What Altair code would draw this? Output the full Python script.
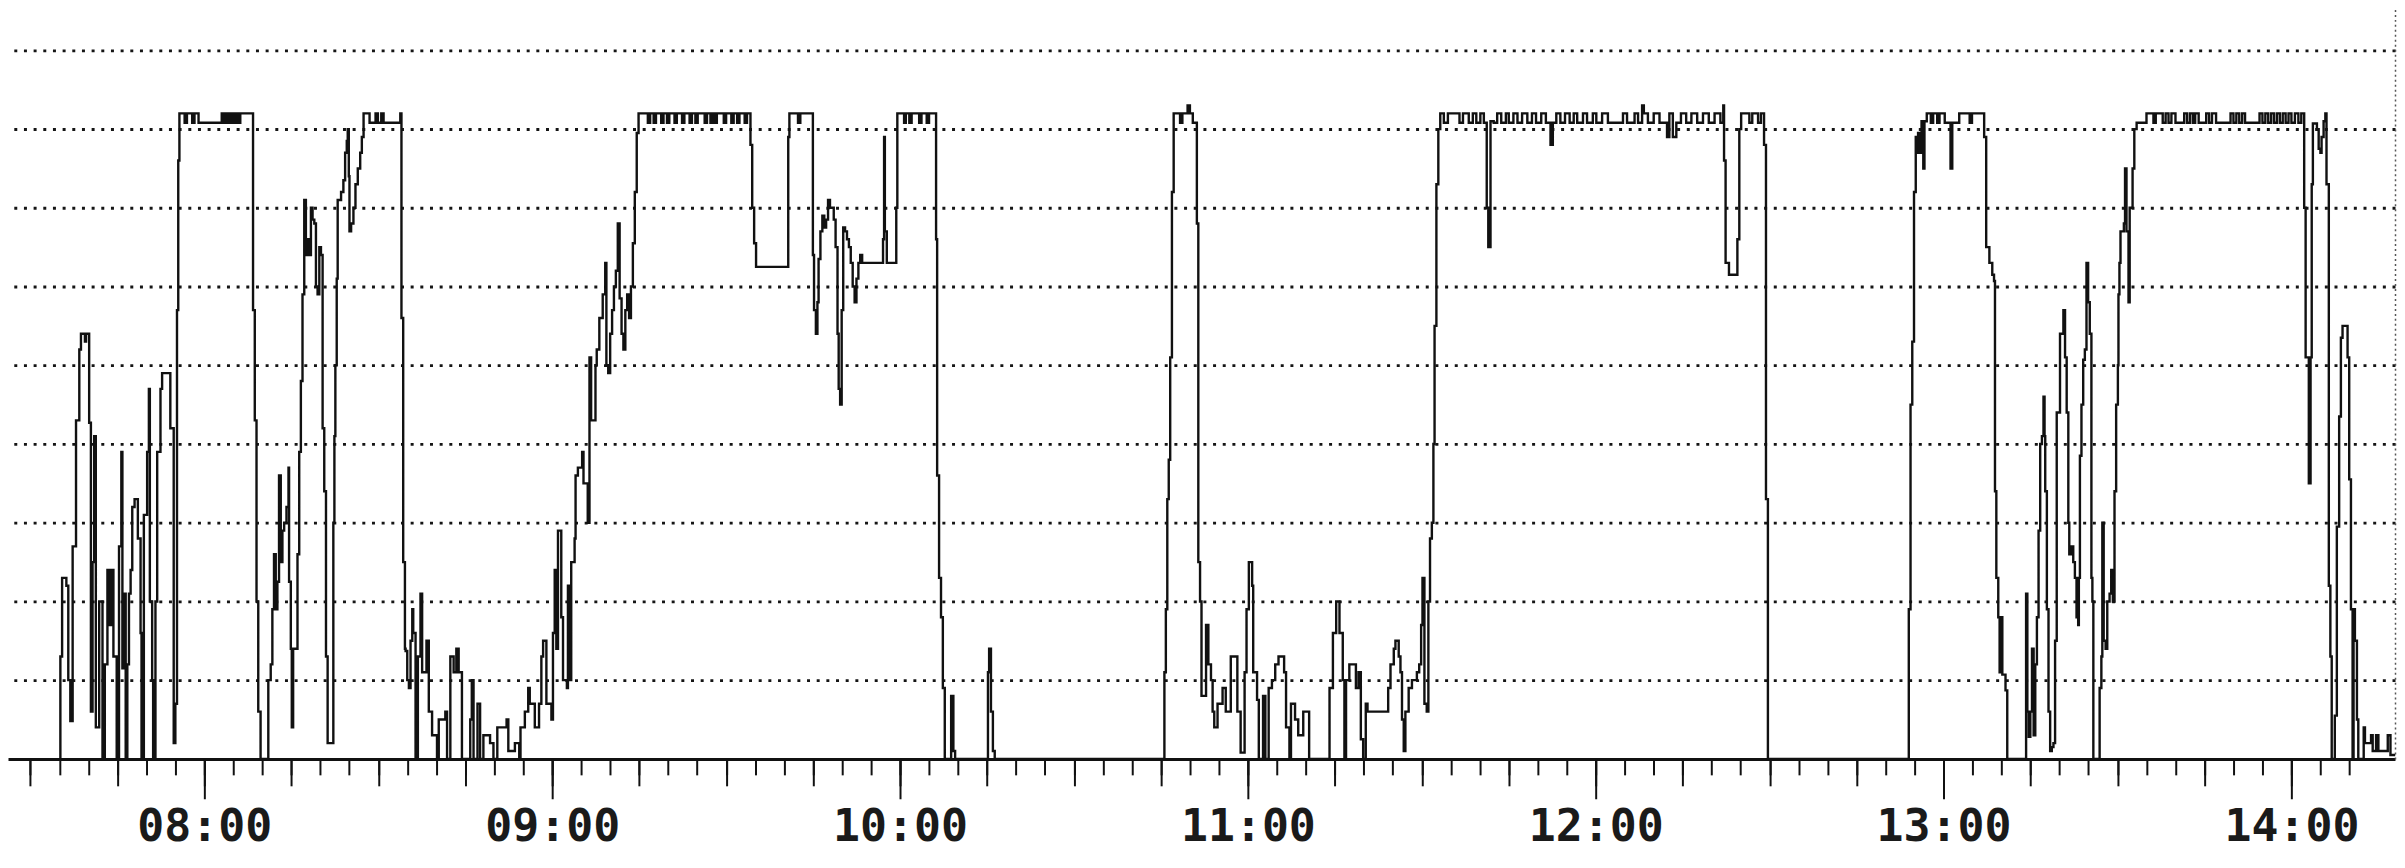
import altair as alt
import pandas as pd

# Each pair: (minutes after 07:00, level)  -- gridlines sit at levels 1..9
early = [(35.0, 0), (35.17, 1.3), (35.46, 2.3), (36.2, 2.2), (36.54, 1.0), (36.89, 0.48), (37.29, 2.7),
         (37.86, 4.3), (38.43, 5.2), (38.71, 5.4), (39.4, 5.3), (39.6, 5.4), (40.14, 4.27), (40.43, 0.6),
         (40.71, 2.5), (41.0, 4.1), (41.29, 0.4), (41.86, 2.0), (42.43, 0), (42.83, 1.2), (43.29, 2.4),
         (43.6, 1.7), (43.9, 2.4), (44.31, 1.3), (44.89, 0), (45.29, 2.7), (45.69, 3.9), (45.86, 1.15),
         (46.14, 2.1), (46.43, 0), (46.71, 1.2), (47.0, 2.1), (47.29, 2.4), (47.57, 3.2), (47.97, 3.3),
         (48.54, 2.8), (49.0, 1.6), (49.17, 0), (49.57, 3.1), (50.14, 3.9), (50.43, 4.7), (50.6, 2.0),
         (51.0, 1.0), (51.17, 0), (51.57, 2.0), (51.86, 3.9), (52.43, 4.7), (52.71, 4.9), (54.14, 4.2),
         (54.71, 0.2), (55.0, 0.7), (55.29, 5.7), (55.5, 7.6)]

plateau_1 = [(55.7, 8.2), (56.6, 8.08), (57.0, 8.2), (57.9, 8.08), (58.3, 8.2), (59.0, 8.08), (63.0, 8.2),
             (63.4, 8.08), (63.8, 8.2), (64.2, 8.08), (64.6, 8.2), (65.0, 8.08), (65.4, 8.2), (65.8, 8.08),
             (66.2, 8.2), (68.4, 5.7), (68.7, 4.3), (69.0, 2.0), (69.3, 0.6), (69.7, 0)]

climb_0810 = [(71.04, 1.0), (71.45, 1.2), (71.73, 1.9), (72.02, 2.6), (72.31, 1.9), (72.6, 2.25), (72.89, 3.6),
              (73.18, 2.5), (73.47, 2.9), (73.76, 3.0), (74.16, 3.2), (74.51, 3.7), (74.62, 2.25), (74.91, 1.4),
              (75.09, 0.4), (75.32, 1.4), (76.07, 2.6), (76.36, 3.9), (76.65, 4.8), (76.94, 5.9), (77.23, 7.1),
              (77.51, 6.4), (77.8, 6.6), (78.09, 6.4), (78.38, 7.0), (78.67, 6.85), (78.96, 6.8), (79.25, 6.0),
              (79.54, 5.9), (79.83, 6.5), (80.12, 6.4), (80.4, 4.2), (80.69, 3.4), (80.98, 1.3), (81.27, 0.2),
              (82.25, 3.0), (82.43, 4.1), (82.6, 5.0), (82.83, 6.1), (83.0, 7.1), (83.58, 7.2), (83.99, 7.35),
              (84.28, 7.7), (84.57, 7.85), (84.74, 8.0), (84.91, 7.4), (85.03, 6.7), (85.32, 6.8), (85.72, 7.0),
              (86.07, 7.3), (86.47, 7.5), (86.88, 7.7), (87.17, 7.9)]

plateau_2 = [(87.46, 8.2), (88.5, 8.08), (89.54, 8.2), (89.94, 8.08), (90.52, 8.2), (90.92, 8.08), (93.8, 8.2),
             (94.0, 5.6), (94.3, 2.5), (94.6, 1.4)]

low_0835 = [(94.71, 1.37), (95.0, 1.0), (95.29, 0.9), (95.57, 1.5), (95.86, 1.9), (96.03, 1.6), (96.43, 0),
            (96.83, 1.3), (97.29, 2.1), (97.57, 1.1), (98.31, 1.5), (98.71, 0.6), (99.29, 0.3), (100.14, 0),
            (100.43, 0.5), (101.57, 0.6), (101.86, 0), (102.43, 1.3), (103.0, 1.1), (103.46, 1.4), (103.86, 1.1),
            (104.43, 0), (105.86, 0.5), (106.14, 1.0), (106.43, 0), (107.11, 0.7), (107.57, 0), (108.14, 0.3),
            (109.29, 0.2), (109.86, 0), (110.54, 0.4), (112.14, 0.5), (112.43, 0.1), (113.57, 0.2), (114.31, 0),
            (114.54, 0.4), (115.29, 0.6), (115.86, 0.9), (116.14, 0.7), (117.0, 0.4), (117.74, 0.7), (118.14, 1.3),
            (118.43, 1.5), (119.0, 0.7), (119.86, 0.5), (120.14, 1.6), (120.43, 2.4), (120.71, 1.4), (121.0, 2.9),
            (121.57, 1.8), (121.86, 1.0), (122.54, 0.9), (122.71, 2.2), (123.0, 1.0), (123.29, 2.5), (123.86, 2.8),
            (124.03, 3.6), (124.43, 3.7), (125.17, 3.9), (125.4, 3.5), (126.14, 3.0), (126.43, 5.1), (126.71, 4.3),
            (127.46, 5.0), (127.69, 5.2), (128.14, 5.6), (128.71, 5.9), (129.15, 6.3), (129.35, 5.0), (129.67, 4.9),
            (130.0, 5.4), (130.33, 5.7), (130.65, 6.0), (130.98, 6.2), (131.31, 6.8), (131.63, 5.85), (131.96, 5.4),
            (132.29, 5.2), (132.61, 5.7), (132.94, 5.9), (133.27, 5.6), (133.59, 6.0), (133.92, 6.55), (134.25, 7.2),
            (134.58, 7.95)]

plateau_3 = [(134.9, 8.2), (136.5, 8.08), (136.9, 8.2), (137.5, 8.08), (137.9, 8.2), (138.8, 8.08), (139.2, 8.2),
             (139.8, 8.08), (140.2, 8.2), (141.1, 8.08), (141.5, 8.2), (142.4, 8.08), (142.8, 8.2), (143.7, 8.08),
             (144.1, 8.2), (144.7, 8.08), (145.1, 8.2), (146.3, 8.08), (146.7, 8.2), (147.3, 8.08), (147.6, 8.2),
             (148.0, 8.08), (148.4, 8.2), (149.6, 8.08), (150.0, 8.2), (150.9, 8.08), (151.3, 8.2), (151.9, 8.08),
             (152.3, 8.2), (153.2, 8.08), (153.6, 8.2), (154.2, 7.8), (154.5, 7.0), (154.84, 6.55), (155.16, 6.25),
             (160.72, 7.9), (160.92, 8.2), (162.4, 8.08), (162.8, 8.2)]

dip_0945 = [(164.97, 6.4), (165.16, 5.7), (165.49, 5.4), (165.75, 5.8), (165.95, 6.35), (166.27, 6.7), (166.6, 6.9),
            (166.93, 6.75), (167.25, 6.85), (167.58, 7.1), (167.91, 7.0), (168.56, 6.85), (168.89, 6.5), (169.22, 5.4),
            (169.41, 4.7), (169.67, 4.5), (169.93, 5.7), (170.2, 6.75), (170.52, 6.7), (170.85, 6.6), (171.18, 6.5),
            (171.5, 6.3), (171.83, 6.0), (172.16, 5.8), (172.48, 6.1), (172.81, 6.3), (173.14, 6.4), (173.46, 6.3),
            (177.06, 6.6), (177.25, 7.9), (177.39, 6.7), (177.71, 6.3), (179.35, 7.0)]

plateau_4 = [(179.54, 8.2), (180.7, 8.08), (181.0, 8.2), (181.6, 8.08), (182.0, 8.2), (183.3, 8.08), (183.7, 8.2),
             (184.6, 8.08), (185.0, 8.2), (186.21, 6.6), (186.4, 3.6), (186.73, 2.3), (187.06, 1.8), (187.39, 0.9),
             (187.71, 0), (188.82, 0.8), (189.2, 0.1), (189.5, 0), (195.16, 1.1), (195.36, 1.4), (195.69, 0.6),
             (196.01, 0.1), (196.34, 0)]

low_1045 = [(225.6, 1.1), (225.85, 1.9), (226.1, 3.3), (226.35, 3.8), (226.6, 5.1), (226.9, 7.2), (227.2, 8.2),
            (228.3, 8.08), (228.7, 8.2), (229.6, 8.3), (230.0, 8.2), (230.5, 8.08), (231.2, 6.8), (231.45, 2.5),
            (231.75, 2.0), (232.0, 0.8), (232.78, 1.7), (233.18, 1.2), (233.64, 1.0), (233.92, 0.6), (234.2, 0.4),
            (234.77, 0.7), (235.63, 0.9), (236.19, 0.6), (237.05, 1.3), (238.18, 0.6), (238.75, 0.08), (239.43, 1.1),
            (239.77, 1.9), (240.17, 2.5), (240.74, 2.2), (240.91, 1.1), (241.59, 0.75), (241.88, 0), (242.61, 0.8),
            (243.01, 0), (243.58, 0.9), (244.15, 1.0), (244.72, 1.2), (245.28, 1.3), (246.25, 1.1), (246.59, 0.4),
            (247.16, 0), (247.44, 0.7), (248.13, 0.5), (248.69, 0.3), (249.55, 0.6), (250.57, 0), (254.09, 0.9),
            (254.66, 1.6), (255.23, 2.0), (255.8, 1.6), (256.36, 1.0), (256.65, 0), (256.93, 1.0), (257.5, 1.2),
            (258.64, 0.9), (259.09, 1.1), (259.49, 0.25), (259.89, 0), (260.34, 0.7), (260.63, 0.6), (264.2, 0.9),
            (264.6, 1.2), (265.17, 1.4), (265.45, 1.5), (266.02, 1.3), (266.31, 1.1), (266.59, 0.5), (266.88, 0.1),
            (267.16, 0.6), (267.73, 0.9), (268.3, 1.0), (269.15, 1.1), (269.55, 1.2), (269.89, 1.7), (270.11, 2.3),
            (270.45, 0.7), (270.85, 0.6), (271.14, 2.0), (271.42, 2.8), (271.73, 3.0), (272.0, 4.0), (272.2, 5.5),
            (272.52, 7.3), (272.85, 8.0)]

plateau_5 = [(273.18, 8.2), (273.8, 8.08), (274.5, 8.2), (276.5, 8.08), (277.1, 8.2), (278.1, 8.08), (278.8, 8.2),
             (279.4, 8.08), (280.1, 8.2), (280.7, 8.08), (281.2, 7.0), (281.46, 6.5), (281.85, 8.1), (282.4, 8.08),
             (283.0, 8.2), (283.7, 8.08), (284.5, 8.2), (285.0, 8.08), (285.8, 8.2), (286.5, 8.08), (287.3, 8.2),
             (288.2, 8.08), (289.0, 8.2), (289.7, 8.08), (290.6, 8.2), (291.4, 8.08), (292.2, 7.8), (292.6, 8.08),
             (293.2, 8.2), (293.9, 8.08), (294.7, 8.2), (295.5, 8.08), (296.2, 8.2), (296.8, 8.08), (297.8, 8.2),
             (298.5, 8.08), (299.5, 8.2), (300.1, 8.08), (301.1, 8.2), (302.1, 8.08), (304.7, 8.2), (305.4, 8.08),
             (306.7, 8.2), (307.3, 8.08), (308.0, 8.3), (308.3, 8.2), (309.0, 8.08), (310.0, 8.2), (311.0, 8.08),
             (312.3, 7.9), (312.7, 8.2), (313.3, 7.9), (313.9, 8.08), (314.7, 8.2), (315.6, 8.08), (316.5, 8.2),
             (317.5, 8.08), (318.5, 8.2), (319.5, 8.08), (320.5, 8.2), (321.5, 8.08), (322.0, 8.3), (322.13, 7.6),
             (322.4, 6.3), (322.98, 6.15), (324.43, 6.6), (324.76, 8.0), (325.09, 8.2), (326.5, 8.08), (327.0, 8.2),
             (328.0, 8.08), (328.5, 8.2), (329.03, 7.8), (329.36, 3.3), (329.7, 0)]

plateau_6 = [(354.0, 1.9), (354.3, 4.5), (354.6, 5.3), (354.9, 7.2), (355.2, 7.9), (355.4, 7.7), (355.6, 7.95),
             (355.9, 7.7), (356.2, 8.1), (356.5, 7.5), (356.7, 8.1), (357.1, 8.2), (357.8, 8.08), (358.2, 8.2),
             (358.9, 8.08), (359.3, 8.2), (360.2, 8.08), (361.2, 7.5), (361.5, 8.08), (362.7, 8.2), (364.5, 8.08),
             (364.9, 8.2), (367.0, 7.9), (367.35, 6.5), (367.9, 6.3), (368.4, 6.15), (368.7, 6.07), (368.87, 3.4),
             (369.1, 2.3), (369.44, 1.8), (369.67, 1.1), (369.84, 1.8), (370.13, 1.07), (370.69, 0.87), (370.98, 0)]

burst_1314 = [(374.23, 2.1), (374.45, 0.6), (374.68, 0.28), (374.97, 0.6), (375.25, 1.4), (375.54, 0.3), (375.82, 1.2),
              (376.1, 1.8), (376.39, 2.9), (376.67, 4.0), (376.96, 4.1), (377.24, 4.6), (377.41, 4.1), (377.53, 3.4),
              (377.81, 1.9), (378.1, 0.6), (378.38, 0.1), (378.67, 0.15), (378.95, 0.2), (379.24, 1.5), (379.52, 4.4),
              (380.09, 5.4), (380.66, 5.7), (380.95, 5.1), (381.23, 4.4), (381.51, 3.0), (381.69, 2.6), (381.97, 2.7),
              (382.37, 2.5), (382.65, 2.3), (382.94, 1.8), (383.22, 1.7), (383.34, 2.3), (383.51, 3.85), (383.79, 4.5),
              (384.08, 5.07), (384.36, 5.2), (384.65, 6.3), (384.93, 5.8), (385.22, 5.4), (385.5, 2.3), (385.67, 2.0),
              (385.84, 0), (386.92, 0.9), (387.21, 1.3), (387.38, 3.0), (387.61, 1.5), (387.95, 1.4), (388.23, 2.0),
              (388.63, 2.1), (388.92, 2.4), (389.2, 2.0), (389.49, 3.4), (389.77, 4.5), (390.06, 5.0), (390.17, 5.9),
              (390.34, 6.3), (390.51, 6.7), (391.1, 6.8), (391.3, 7.5), (391.55, 6.7), (391.9, 5.8), (392.1, 7.0),
              (392.6, 7.5), (392.9, 8.0)]

plateau_7 = [(393.3, 8.08), (395.0, 8.2), (396.2, 8.08), (396.6, 8.2), (397.8, 8.08), (398.3, 8.2), (398.8, 8.08),
             (399.3, 8.2), (400.0, 8.08), (401.5, 8.2), (402.0, 8.08), (402.5, 8.2), (403.0, 8.08), (403.4, 8.2),
             (404.0, 8.08), (405.3, 8.2), (405.8, 8.08), (406.3, 8.2), (407.0, 8.08), (409.5, 8.2), (410.0, 8.08),
             (410.5, 8.2), (411.0, 8.08), (411.5, 8.2), (412.0, 8.08), (414.5, 8.2), (415.0, 8.08), (415.5, 8.2),
             (416.0, 8.08), (416.5, 8.2), (417.0, 8.08), (417.5, 8.2), (418.0, 8.08), (418.5, 8.2), (419.0, 8.08),
             (419.5, 8.2), (420.0, 8.08), (420.6, 8.2), (421.2, 8.08), (421.7, 8.2)]

tail_1402 = [(422.2, 7.0), (422.45, 5.1), (423.0, 3.5), (423.3, 5.1), (423.5, 7.3), (423.7, 8.07), (424.4, 8.0),
             (424.7, 7.75), (425.0, 7.7), (425.2, 7.9), (425.55, 8.1), (425.85, 8.2), (426.05, 7.3), (426.45, 2.2),
             (426.72, 1.3), (426.95, 0), (427.49, 0.55), (427.83, 2.95), (428.24, 4.35), (428.53, 5.35), (428.82, 5.5),
             (429.68, 5.1), (429.97, 3.55), (430.26, 1.9), (430.55, 0), (430.72, 1.9), (430.95, 1.5), (431.3, 0.5),
             (431.53, 0), (432.46, 0.4), (432.69, 0.2), (433.73, 0.3), (434.02, 0.1), (434.6, 0.3), (435.0, 0.1),
             (436.62, 0.3), (437.08, 0.05), (437.9, 0.05)]

hour_labels = ["08:00", "09:00", "10:00", "11:00", "12:00", "13:00", "14:00"]
grid_levels = [1, 2, 3, 4, 5, 6, 7, 8, 9]

segments = [early, plateau_1, climb_0810, plateau_2, low_0835, plateau_3, dip_0945, plateau_4,
            low_1045, plateau_5, plateau_6, burst_1314, plateau_7, tail_1402]
pairs = [p for seg in segments for p in seg]
base_ts = pd.Timestamp("2024-01-01 07:00:00")
df = pd.DataFrame({
    "time": [(base_ts + pd.Timedelta(seconds=round(m * 60))).strftime("%Y-%m-%dT%H:%M:%S") for m, _ in pairs],
    "value": [v for _, v in pairs],
})


def dt(h, m, s=0):
    return alt.DateTime(year=2024, month=1, date=1, hours=h, minutes=m, seconds=s)


# tick positions every 5 minutes across the visible window (07:30 .. 14:15)
minor_ticks = [dt(7 + k // 12, (k % 12) * 5) for k in range(6, 87)]
quarter_ticks = [dt(7 + k // 4, (k % 4) * 15) for k in range(2, 29)]
hour_ticks = [dt(int(h[:2]), int(h[3:])) for h in hour_labels]

x_scale = alt.Scale(domain=[dt(7, 26, 8), dt(14, 17, 52)], nice=False)
y_scale = alt.Scale(domain=[0, 9.52], nice=False)

minor_axis = alt.Axis(title=None, orient="bottom", values=minor_ticks, tickSize=16, tickWidth=2,
                      tickColor="#111111", labels=False, grid=False,
                      domain=True, domainColor="#111111", domainWidth=3)
quarter_axis = alt.Axis(title=None, orient="bottom", values=quarter_ticks, tickSize=27, tickWidth=2,
                        tickColor="#111111", labels=False, grid=False, domain=False)
hour_axis = alt.Axis(title=None, orient="bottom", values=hour_ticks, tickSize=40, tickWidth=2,
                     tickColor="#111111", grid=False, domain=False, format="%H:%M",
                     labelFont="DejaVu Sans Mono", labelFontWeight="bold", labelFontSize=45,
                     labelColor="#1a1a1a", labelPadding=6, labelOverlap=False, labelFlush=False)

y_axis = alt.Axis(
    title=None, orient="right", values=grid_levels, grid=True,
    gridDash=[3, 6.7], gridColor="#151515", gridWidth=2.8,
    labels=False, ticks=False,
    domain=True, domainDash=[2, 3], domainColor="#555555", domainWidth=1.5,
)

base = alt.Chart(df)

line = base.mark_line(
    interpolate="step-after", color="#111111", strokeWidth=2.4
).encode(
    x=alt.X("time:T", axis=minor_axis, scale=x_scale),
    y=alt.Y("value:Q", axis=y_axis, scale=y_scale),
)

quarter_layer = base.mark_line(opacity=0).encode(
    x=alt.X("time:T", axis=quarter_axis, scale=x_scale),
    y=alt.Y("value:Q", axis=y_axis, scale=y_scale),
)

hour_layer = base.mark_line(opacity=0).encode(
    x=alt.X("time:T", axis=hour_axis, scale=x_scale),
    y=alt.Y("value:Q", axis=y_axis, scale=y_scale),
)

chart = alt.layer(line, quarter_layer, hour_layer).resolve_axis(x="independent").properties(
    width=2395,
    height=752,
    padding={"left": 0, "top": 0, "right": 2, "bottom": 93},
    autosize=alt.AutoSizeParams(type="none"),
    background="white",
).configure_view(stroke=None)

chart.save("out.html", embed_options={"renderer": "svg", "actions": False})
